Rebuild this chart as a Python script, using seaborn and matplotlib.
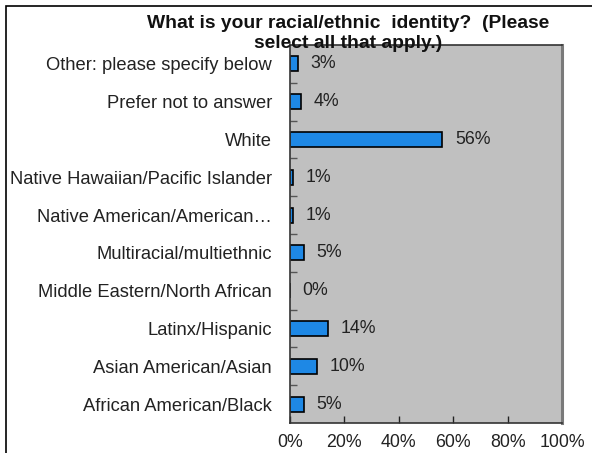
import matplotlib
matplotlib.use("Agg")
import matplotlib.pyplot as plt
import seaborn as sns
import pandas as pd
from matplotlib.patches import Rectangle

categories = [
    "Other: please specify below",
    "Prefer not to answer",
    "White",
    "Native Hawaiian/Pacific Islander",
    "Native American/American\u2026",
    "Multiracial/multiethnic",
    "Middle Eastern/North African",
    "Latinx/Hispanic",
    "Asian American/Asian",
    "African American/Black",
]
percents = [3, 4, 56, 1, 1, 5, 0, 14, 10, 5]
x_ticks = [0, 20, 40, 60, 80, 100]
x_tick_labels = ["0%", "20%", "40%", "60%", "80%", "100%"]
title = "What is your racial/ethnic  identity?  (Please\nselect all that apply.)"

sns.set_theme(style="white")
plt.rcParams["font.family"] = ["Liberation Sans", "DejaVu Sans"]

df = pd.DataFrame({"category": categories, "percent": percents})

fig = plt.figure(figsize=(5.92, 4.53), dpi=100)
ax = fig.add_axes([290 / 592, 1 - 423 / 453, (562 - 290) / 592, (423 - 45) / 453])
ax.set_facecolor("#C0C0C0")

sns.barplot(data=df, x="percent", y="category", orient="h", color="#1E88E5",
            saturation=1, edgecolor="black", linewidth=1.2, width=0.4, ax=ax)

for container in ax.containers:
    ax.bar_label(container, labels=[f"{v}%" for v in percents], padding=9,
                 fontsize=12.8, color="#222222")

ax.set_xlim(0, 100)
ax.set_ylim(len(categories) - 0.5, -0.5)
ax.set_xticks(x_ticks)
ax.set_xticklabels(x_tick_labels, fontsize=12.8, color="#222222")
ax.tick_params(axis="x", direction="in", length=5, width=1, color="#222222", pad=8,
               bottom=True)
ax.set_yticks(range(len(categories)))
ax.set_yticklabels(categories, fontsize=13.2, color="#222222")
ax.tick_params(axis="y", which="major", length=0, pad=13)
ax.set_yticks([i + 0.5 for i in range(len(categories) - 1)], minor=True)
ax.tick_params(axis="y", which="minor", direction="in", length=5, width=1,
               color="#555555", left=True)
ax.set_xlabel("")
ax.set_ylabel("")
ax.grid(False)

for side in ["left", "bottom", "top"]:
    ax.spines[side].set_color("#333333")
    ax.spines[side].set_linewidth(1.2)
ax.spines["right"].set_color("#7A7A7A")
ax.spines["right"].set_linewidth(2.2)

fig.text(348 / 592, 1 - 15 / 453, title, ha="center", va="top", fontsize=13.9,
         fontweight="bold", color="#111111", linespacing=1.22, zorder=10)

fig.patches.append(Rectangle((6 / 592, -0.1), 1.2, (453 - 6) / 453 + 0.1,
                             transform=fig.transFigure, fill=False,
                             edgecolor="black", linewidth=1.2, zorder=0))

fig.savefig("out.png", dpi=100)
